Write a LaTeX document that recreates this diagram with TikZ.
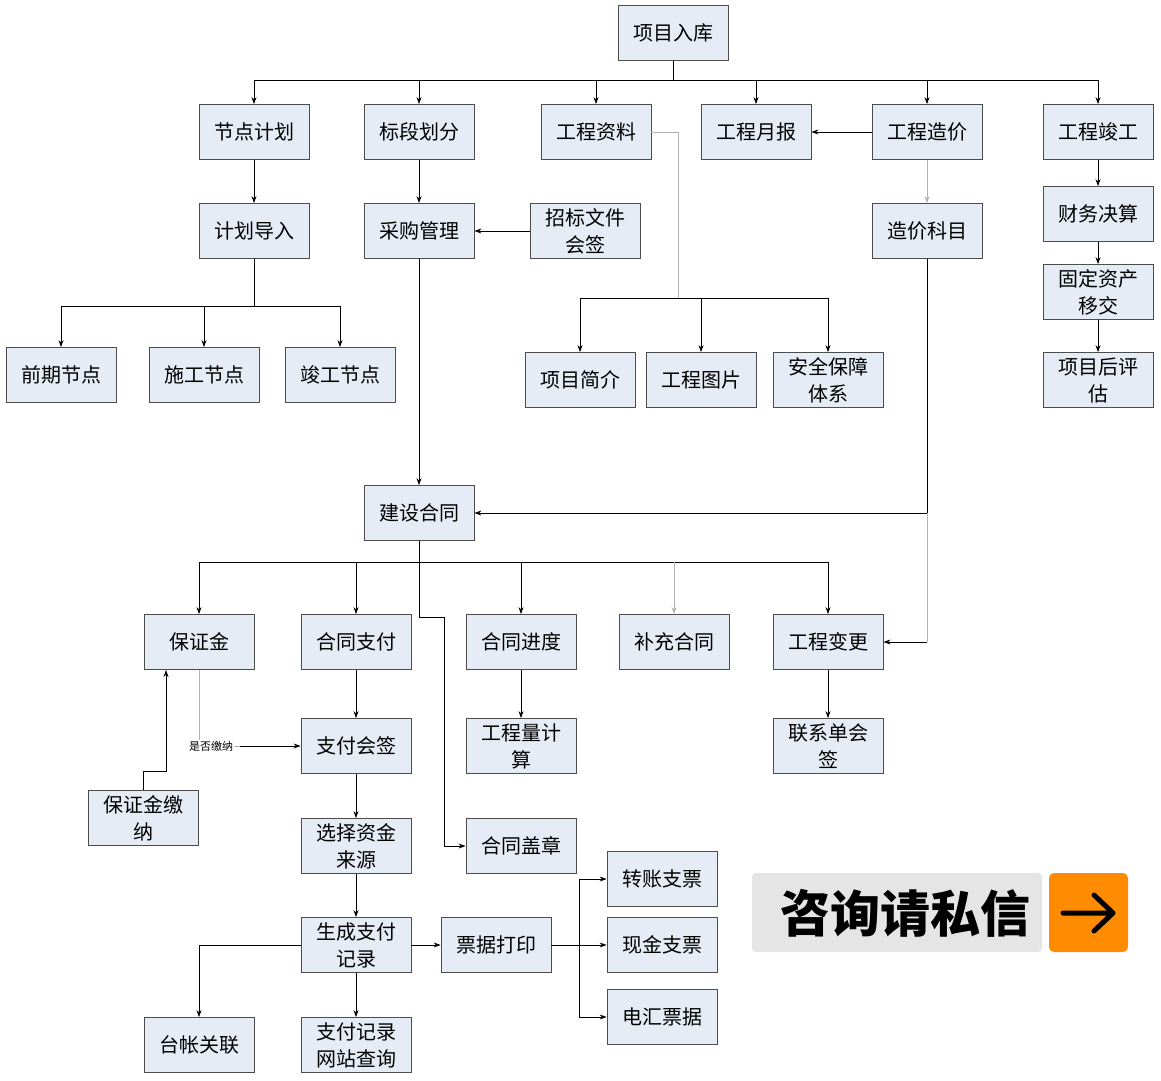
\documentclass[tikz,border=0pt]{standalone}
\usepackage{fontspec}
\newfontfamily\cjk{Noto Sans CJK SC}
\usetikzlibrary{arrows.meta}
\definecolor{boxfill}{HTML}{E6ECF5}
\begin{document}
\begin{tikzpicture}[x=1pt,y=-1pt,
 bx/.style={draw=black!70,fill=boxfill,minimum width=110pt,minimum height=55pt,inner sep=1pt,align=center,font=\cjk\fontsize{20}{27}\selectfont,line width=0.8pt},
 ln/.style={draw=black,line width=0.8pt},
 ar/.style={ln,-{Stealth[length=7pt,width=5pt]}},
 gr/.style={draw=gray!60,line width=0.8pt}]
\useasboundingbox (0,0) rectangle (1161,1080);
\node[bx] (rk) at (673,33) {项目入库};
\node[bx] (jd) at (254,132) {节点计划};
\node[bx] (bd) at (419,132) {标段划分};
\node[bx] (zl) at (596,132) {工程资料};
\node[bx] (yb) at (756,132) {工程月报};
\node[bx] (zj) at (927,132) {工程造价};
\node[bx] (jg) at (1098,132) {工程竣工};
\node[bx] (jh) at (254,231) {计划导入};
\node[bx] (cg) at (419,231) {采购管理};
\node[bx] (zb) at (585,231) {招标文件\\会签};
\node[bx] (km) at (927,231) {造价科目};
\node[bx] (cw) at (1098,214) {财务决算};
\node[bx] (gd) at (1098,292) {固定资产\\移交};
\node[bx] (pg) at (1098,380) {项目后评\\估};
\node[bx] (qq) at (61,375) {前期节点};
\node[bx] (sg) at (204,375) {施工节点};
\node[bx] (jgj) at (340,375) {竣工节点};
\node[bx] (jj) at (580,380) {项目简介};
\node[bx] (tp) at (701,380) {工程图片};
\node[bx] (aq) at (828,380) {安全保障\\体系};
\node[bx] (ht) at (419,513) {建设合同};
\node[bx] (bz) at (199,642) {保证金};
\node[bx] (zf) at (356,642) {合同支付};
\node[bx] (jdu) at (521,642) {合同进度};
\node[bx] (bc) at (674,642) {补充合同};
\node[bx] (bg) at (828,642) {工程变更};
\node[bx] (hq) at (356,746) {支付会签};
\node[bx] (gcl) at (521,746) {工程量计\\算};
\node[bx] (lx) at (828,746) {联系单会\\签};
\node[bx] (jn) at (143,818) {保证金缴\\纳};
\node[bx] (zy) at (356,846) {选择资金\\来源};
\node[bx] (gz) at (521,846) {合同盖章};
\node[bx] (sc) at (356,945) {生成支付\\记录};
\node[bx] (pj) at (496,945) {票据打印};
\node[bx] (zz) at (662,879) {转账支票};
\node[bx] (xj) at (662,945) {现金支票};
\node[bx] (dh) at (662,1017) {电汇票据};
\node[bx] (tz) at (199,1045) {台帐关联};
\node[bx] (wz) at (356,1045) {支付记录\\网站查询};
% top bus
\draw[ln] (rk.south) -- (673,80);
\draw[ln] (254,80) -- (1098,80);
\foreach \n in {jd,bd,zl,yb,zj,jg} \draw[ar] (\n.north |- 0,80) -- (\n.north);
\draw[ar] (jd) -- (jh);
\draw[ar] (bd) -- (cg);
\draw[ar] (zb) -- (cg);
\draw[ar] (zj) -- (yb);
\draw[gr,-{Stealth[length=7pt,width=5pt]}] (zj) -- (km);
\draw[ar] (jg) -- (cw);
\draw[ar] (cw) -- (gd);
\draw[ar] (gd) -- (pg);
\draw[ln] (jh.south) -- (254,306);
\draw[ln] (61,306) -- (340,306);
\foreach \n in {qq,sg,jgj} \draw[ar] (\n.north |- 0,306) -- (\n.north);
\draw[gr] (zl.east) -- (678,132) -- (678,298);
\draw[ln] (580,298) -- (828,298);
\foreach \n in {jj,tp,aq} \draw[ar] (\n.north |- 0,298) -- (\n.north);
\draw[ar] (cg) -- (ht);
\draw[ln] (km.south) -- (927,513);
\draw[ar] (927,513) -- (ht.east);
\draw[gr] (927,513) -- (927,642);
\draw[ar] (927,642) -- (bg.east);
% contract bus
\draw[ln] (ht.south) -- (419,562);
\draw[ln] (199,562) -- (828,562);
\foreach \n in {bz,zf,jdu,bg} \draw[ar] (\n.north |- 0,562) -- (\n.north);
\draw[gr,-{Stealth[length=7pt,width=5pt]}] (674,562) -- (bc.north);
\draw[ln] (419,562) -- (419,617) -- (444,617) -- (444,846);
\draw[ar] (444,846) -- (gz.west);
\draw[ar] (jdu) -- (gcl);
\draw[ar] (bg) -- (lx);
\draw[ar] (zf) -- (hq);
\draw[gr] (bz.south) -- (199,746) -- (240,746);
\draw[ar] (240,746) -- (hq.west);
\node[font=\cjk\fontsize{11}{13}\selectfont,fill=white,inner sep=1pt] (lb) at (211,746) {是否缴纳};
\draw[ar] (jn.north) -- (143,771) -- (166,771) -- (166,670);
\draw[ar] (hq) -- (zy);
\draw[ar] (zy) -- (sc);
\draw[ar] (sc) -- (pj);
\draw[ar] (sc) -- (wz);
\draw[ar] (sc.west) -| (tz.north);
\draw[ln] (pj.east) -- (579,945);
\draw[ln] (579,879) -- (579,1017);
\foreach \n in {zz,xj,dh} \draw[ar] (579,0 |- \n.west) -- (\n.west);
% banner
\fill[gray!20,rounded corners=4pt] (752,873) rectangle (1042,952);
\node[font=\cjk\bfseries\fontsize{50}{56}\selectfont] (bn) at (905,913) {咨询请私信};
\fill[orange!90!yellow,rounded corners=5pt] (1049,873) rectangle (1128,952);
\draw[line width=5pt,line cap=round,line join=round] (1063,913) -- (1112,913) (1094,895) -- (1113,913) -- (1094,931);
\end{tikzpicture}
\end{document}
